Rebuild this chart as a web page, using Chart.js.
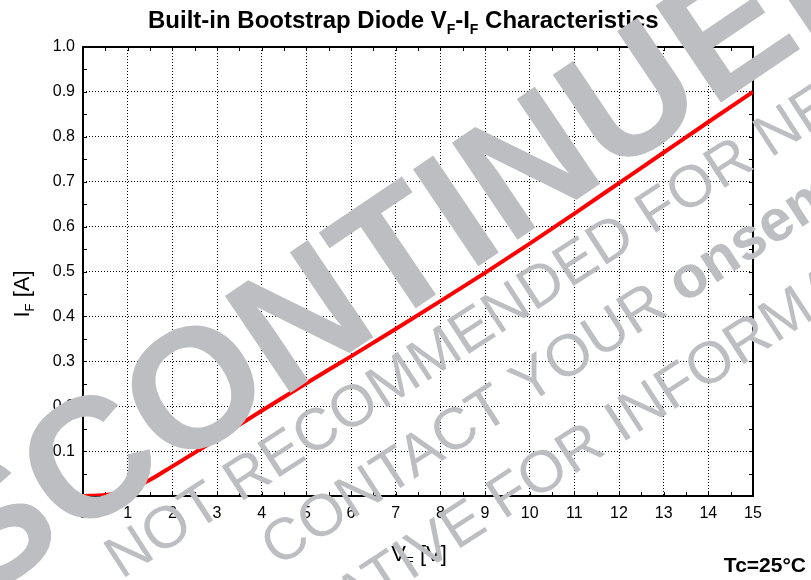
<!DOCTYPE html>
<html><head><meta charset="utf-8">
<script src="https://cdn.jsdelivr.net/npm/chart.js@4.4.1/dist/chart.umd.min.js"></script>
<style>html,body{margin:0;padding:0;background:#fff;overflow:hidden}</style>
</head><body>
<canvas id="c" width="811" height="580"></canvas>
<script>
// ---- data ----
const vfVolts = [0, 0.5, 1, 1.5, 2, 3, 4, 5, 6, 7, 8, 9, 10, 11, 12, 13, 14, 15];
const ifAmps  = [0, 0.002, 0.012, 0.036, 0.066, 0.127, 0.19, 0.251, 0.311, 0.372, 0.434, 0.497, 0.562, 0.629, 0.697, 0.765, 0.833, 0.90];
const xTickValues = [0,1,2,3,4,5,6,7,8,9,10,11,12,13,14,15];
const yTickValues = [0,0.1,0.2,0.3,0.4,0.5,0.6,0.7,0.8,0.9,1.0];
const titleParts = [['Built-in Bootstrap Diode V',0],['F',1],['-I',0],['F',1],[' Characteristics',0]];
const xTitleParts = [['V',0],['F',1],[' [V]',0]];
const yTitleParts = [['I',0],['F',1],[' [A]',0]];
const noteText = 'Tc=25°C';
const watermarkText = ['DISCONTINUED','NOT RECOMMENDED FOR NEW DESIGN','CONTACT YOUR ','onsemi','REPRESENTATIVE FOR INFORMATION'];

const FF = '"Liberation Sans", Arial, sans-serif';

function richWidth(ctx, parts, size, subSize, weight){
  let w = 0;
  for (const [t, s] of parts){ ctx.font = weight + ' ' + (s ? subSize : size) + 'px ' + FF; w += ctx.measureText(t).width; }
  return w;
}
function drawRich(ctx, parts, x, y, size, subSize, weight, subDy){
  let cx = x;
  for (const [t, s] of parts){
    ctx.font = weight + ' ' + (s ? subSize : size) + 'px ' + FF;
    ctx.fillText(t, cx, y + (s ? subDy : 0));
    cx += ctx.measureText(t).width;
  }
}

const framePlugin = {
  id: 'frame',
  beforeDatasetsDraw(chart){
    const {ctx, chartArea: a, scales: {x, y}} = chart;
    ctx.save();
    ctx.strokeStyle = '#000';
    ctx.lineWidth = 1;
    const L = 4;
    ctx.beginPath();
    for (let i = 0; i < xTickValues.length * 2 - 1; i++){
      const v = i * 0.5;
      const px = Math.round(x.getPixelForValue(v)) + 0.5;
      ctx.moveTo(px, a.bottom); ctx.lineTo(px, a.bottom - L);
      ctx.moveTo(px, a.top); ctx.lineTo(px, a.top + L);
    }
    for (let i = 0; i < (yTickValues.length - 1) * 2 + 1; i++){
      const v = i * 0.05;
      const py = Math.round(y.getPixelForValue(v)) + 0.5;
      ctx.moveTo(a.left, py); ctx.lineTo(a.left + L, py);
      ctx.moveTo(a.right, py); ctx.lineTo(a.right - L, py);
    }
    ctx.stroke();
    ctx.lineWidth = 2;
    ctx.strokeRect(a.left, a.top, a.right - a.left, a.bottom - a.top);
    ctx.restore();
  }
};

const textPlugin = {
  id: 'texts',
  afterDatasetsDraw(chart){
    const {ctx} = chart;
    ctx.save();
    ctx.fillStyle = '#000';
    ctx.textBaseline = 'alphabetic';
    ctx.textAlign = 'left';
    // title
    drawRich(ctx, titleParts, 148, 28, 24, 14, 'bold', 6);
    // x title
    const xw = richWidth(ctx, xTitleParts, 22, 13, 'normal');
    drawRich(ctx, xTitleParts, 419 - xw / 2, 561, 22, 13, 'normal', 5);
    // y title
    const yw = richWidth(ctx, yTitleParts, 22, 13, 'normal');
    ctx.save();
    ctx.translate(29, 294);
    ctx.rotate(-Math.PI / 2);
    drawRich(ctx, yTitleParts, -yw / 2, 0, 22, 13, 'normal', 5);
    ctx.restore();
    // note
    ctx.font = 'bold 21px ' + FF;
    ctx.textAlign = 'right';
    ctx.fillText(noteText, 806, 572);
    ctx.restore();
  }
};

const watermarkPlugin = {
  id: 'watermark',
  afterDraw(chart){
    const ctx = chart.ctx;
    ctx.save();
    ctx.fillStyle = '#bdbec1';
    ctx.textBaseline = 'alphabetic';
    function line(parts, x0, y0, align, deg){
      ctx.save();
      ctx.translate(x0, y0);
      ctx.rotate(-deg * Math.PI / 180);
      let total = 0;
      for (const [t, sz, wt] of parts){ ctx.font = wt + ' ' + sz + 'px ' + FF; total += ctx.measureText(t).width; }
      let cx = align === 'center' ? -total / 2 : 0;
      for (const [t, sz, wt] of parts){
        ctx.font = wt + ' ' + sz + 'px ' + FF;
        ctx.textAlign = 'left';
        ctx.fillText(t, cx, 0.358 * sz);
        cx += ctx.measureText(t).width;
      }
      ctx.restore();
    }
    line([[watermarkText[0], 170, 'bold']], 337, 288, 'center', 34);
    line([[watermarkText[1], 59, 'normal']], 110, 562, 'left', 33);
    line([[watermarkText[2], 59, 'normal'], [watermarkText[3], 59, 'bold']], 266, 550, 'left', 33);
    line([[watermarkText[4], 59, 'normal']], 40, 796, 'left', 33);
    ctx.restore();
  }
};

const tickFont = {family: FF, size: 16};

new Chart(document.getElementById('c'), {
  type: 'line',
  data: {
    datasets: [{
      data: vfVolts.map((v, i) => ({x: v, y: ifAmps[i]})),
      borderColor: '#ff0000',
      borderWidth: 4,
      pointRadius: 0,
      cubicInterpolationMode: 'monotone',
      fill: false
    }]
  },
  options: {
    responsive: false,
    animation: false,
    devicePixelRatio: 1,
    layout: {padding: {left: 0, right: 58, top: 47, bottom: 0}},
    plugins: {legend: {display: false}, tooltip: {enabled: false}, title: {display: false}},
    scales: {
      x: {
        type: 'linear', min: 0, max: 15,
        afterBuildTicks(s){ s.ticks = xTickValues.map(v => ({value: v})); },
        ticks: {font: tickFont, color: '#000', padding: 8, maxRotation: 0, autoSkip: false,
                callback: v => String(v)},
        grid: {color: '#000', lineWidth: 1, drawTicks: false},
        border: {display: false, dash: [1, 2]},
        afterFit(s){ s.height = 84; }
      },
      y: {
        type: 'linear', min: 0, max: 1,
        afterBuildTicks(s){ s.ticks = yTickValues.map(v => ({value: v})); },
        ticks: {font: tickFont, color: '#000', padding: 8, autoSkip: false,
                callback: v => (v === 0 ? '' : Number(v).toFixed(1))},
        grid: {color: '#000', lineWidth: 1, drawTicks: false},
        border: {display: false, dash: [1, 2]},
        afterFit(s){ s.width = 83; }
      }
    }
  },
  plugins: [framePlugin, textPlugin, watermarkPlugin]
});
</script>
</body></html>
